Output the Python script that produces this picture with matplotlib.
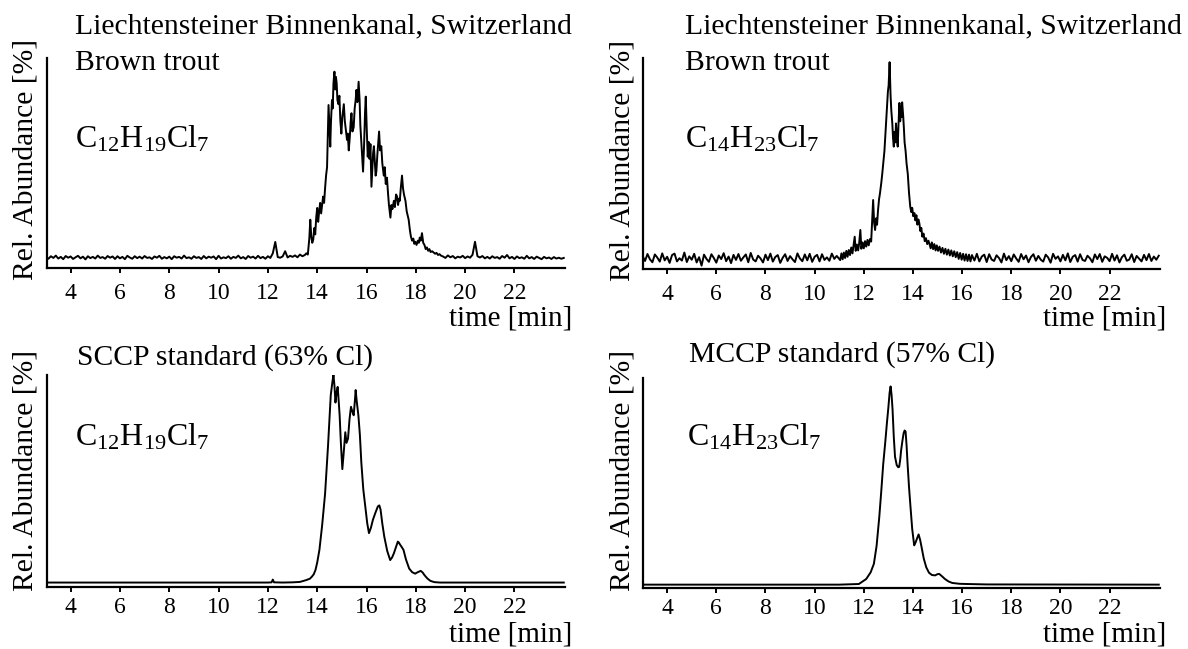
import numpy as np
import matplotlib.pyplot as plt

plt.rcParams['font.family'] = ['Liberation Serif', 'DejaVu Serif']
plt.rcParams['mathtext.fontset'] = 'custom'
plt.rcParams['mathtext.rm'] = 'Liberation Serif'

W, H = 1188, 649

# ---- data (time in min, relative abundance in %) ----
ticks = [4, 6, 8, 10, 12, 14, 16, 18, 20, 22]

# Panel A: trout, C12H19Cl7 (noisy)
trout12_base_t = np.linspace(3.0, 13.5, 106)
trout12_base_v = [
    5.2, 4.4, 5.6, 4.8, 5.9, 4.5, 5.3, 4.2, 5.7, 4.9,
    5.5, 4.3, 5.1, 5.8, 4.6, 5.4, 4.1, 5.6, 4.7, 5.3,
    4.5, 5.9, 4.8, 5.2, 4.4, 5.7, 4.9, 5.5, 4.3, 5.6,
    4.6, 5.3, 4.2, 5.8, 5.0, 4.4, 5.6, 4.7, 5.4, 4.5,
    5.7, 4.8, 5.1, 4.3, 5.5, 4.9, 5.8, 4.4, 5.2, 4.6,
    5.4, 4.2, 5.6, 4.9, 5.3, 4.5, 5.9, 4.7, 5.1, 4.4,
    5.6, 4.8, 5.2, 4.3, 5.7, 4.6, 5.4, 4.9, 5.5, 4.2,
    5.8, 4.5, 5.1, 4.7, 5.6, 4.4, 5.3, 4.8, 5.9, 4.6,
    5.2, 4.3, 5.7, 4.9, 5.4, 4.5, 5.8, 4.7, 5.3, 4.4,
    5.6, 4.8, 7.0, 12.4, 5.2, 4.9, 5.5, 8.0, 5.0, 5.8,
    5.3, 6.0, 5.1, 6.4, 5.6, 6.2,
]
trout12_peak_t = [
    13.56, 13.62, 13.68, 13.72, 13.76, 13.80, 13.84, 13.88, 13.92, 13.96,
    14.00, 14.04, 14.08, 14.12, 14.16, 14.20, 14.24, 14.28, 14.32, 14.36,
    14.40, 14.43, 14.46, 14.50, 14.53, 14.56, 14.60, 14.63, 14.66, 14.70,
    14.73, 14.76, 14.79, 14.82, 14.86, 14.90, 14.94, 14.98, 15.02, 15.05,
    15.08, 15.12, 15.16, 15.21, 15.24, 15.28, 15.32, 15.36, 15.39, 15.43,
    15.48, 15.52, 15.56, 15.59, 15.63, 15.68, 15.72, 15.75, 15.79, 15.83,
    15.86, 15.90, 15.94, 15.97, 16.01, 16.05, 16.09, 16.12, 16.16, 16.20,
    16.24, 16.27, 16.30, 16.34, 16.37, 16.40, 16.44, 16.48, 16.51, 16.55,
    16.60, 16.64, 16.67, 16.70, 16.74, 16.78, 16.83, 16.87, 16.91, 16.94,
    16.97, 17.01, 17.05, 17.11, 17.15, 17.20, 17.24, 17.28, 17.32, 17.35,
    17.39, 17.44, 17.48, 17.52, 17.58, 17.63, 17.67, 17.71, 17.76, 17.80,
    17.85, 17.90, 17.94, 17.98, 18.03, 18.08, 18.12, 18.16, 18.20, 18.25,
    18.30, 18.35, 18.40, 18.45, 18.50, 18.55, 18.60, 18.66, 18.72, 18.78,
    18.84, 18.90, 18.96, 19.02,
]
trout12_peak_v = [
    7.0, 6.4, 14.0, 23.0, 15.0, 12.0, 13.5, 19.0, 16.0, 24.0,
    28.6, 22.0, 27.0, 31.0, 26.0, 30.0, 34.0, 31.0, 38.0, 44.0,
    48.0, 62.0, 77.6, 66.0, 57.8, 70.0, 80.0, 76.0, 88.0, 93.5,
    85.0, 91.0, 88.0, 80.0, 78.0, 82.0, 70.0, 64.0, 72.0, 75.0,
    78.0, 70.0, 66.0, 61.0, 64.0, 56.0, 62.0, 70.0, 73.7, 65.0,
    67.0, 76.0, 80.0, 84.8, 79.0, 88.7, 80.0, 68.0, 60.0, 52.0,
    45.9, 58.0, 74.0, 81.6, 66.0, 53.0, 60.0, 52.0, 59.0, 38.7,
    48.0, 55.0, 58.0, 50.0, 44.0, 46.0, 54.0, 60.0, 65.0, 56.0,
    58.0, 50.0, 47.0, 44.0, 48.0, 40.0, 43.0, 36.0, 30.0, 27.0,
    24.0, 30.0, 28.0, 32.0, 29.0, 35.0, 34.0, 30.0, 33.0, 32.0,
    38.0, 44.0, 38.0, 35.0, 32.0, 27.0, 25.0, 23.0, 18.0, 15.0,
    13.0, 14.0, 11.5, 12.5, 11.0, 13.0, 12.0, 14.5, 13.0, 16.6,
    12.0, 11.0, 9.0, 9.8, 8.2, 9.0, 7.6, 8.0, 7.4, 6.8,
    7.2, 6.2, 6.6, 5.9,
]
trout12_tail_t = np.linspace(19.1, 24.0, 50)
trout12_tail_v = [
    5.5, 4.8, 6.0, 5.1, 5.7, 4.6, 5.4, 5.0, 5.8,
    4.7, 5.5, 4.9, 6.3, 12.5, 5.6, 5.0, 5.7, 4.6, 5.3,
    4.5, 5.6, 4.8, 5.2, 4.4, 5.7, 4.9, 6.2, 4.6, 5.3,
    4.3, 5.5, 4.7, 5.1, 4.4, 5.8, 4.6, 5.2, 4.3, 5.4,
    4.8, 4.2, 5.3, 4.6, 5.0, 4.3, 5.2, 4.5, 4.9, 4.4,
    4.8,
]

# Panel B: trout, C14H23Cl7 (noisy)
trout14_base_t = np.linspace(3.0, 10.9, 80)
trout14_base_v = [
    6.2, 3.8, 7.1, 4.6, 3.2, 6.9, 5.4, 3.5, 7.4, 4.1,
    5.8, 2.9, 6.6, 7.3, 3.6, 5.1, 4.0, 7.8, 3.3, 6.0,
    4.4, 7.2, 3.1, 5.6, 1.6, 6.8, 4.8, 3.4, 7.0, 5.2,
    3.0, 6.4, 4.7, 7.5, 3.7, 5.9, 2.8, 6.7, 4.3, 7.1,
    3.9, 5.5, 6.9, 3.2, 7.6, 4.5, 3.6, 6.3, 5.0, 3.1,
    6.8, 4.2, 7.3, 3.5, 5.7, 6.6, 2.9, 5.3, 7.0, 3.8,
    6.1, 4.6, 3.3, 7.4, 5.0, 3.7, 6.9, 4.1, 7.2, 3.4,
    5.8, 6.7, 3.6, 7.0, 4.3, 5.5, 3.9, 7.3, 4.8, 6.2,
]
trout14_peak_t = [
    11.04, 11.09, 11.14, 11.19, 11.24, 11.29, 11.34, 11.39, 11.44, 11.49,
    11.54, 11.58, 11.63, 11.67, 11.72, 11.77, 11.81, 11.86, 11.90, 11.95,
    12.00, 12.05, 12.10, 12.15, 12.20, 12.25, 12.30, 12.34, 12.38, 12.42,
    12.46, 12.50, 12.54, 12.58, 12.62, 12.66, 12.71, 12.75, 12.80, 12.84,
    12.88, 12.92, 12.95, 12.98, 13.01, 13.03, 13.05, 13.07, 13.09, 13.12,
    13.16, 13.19, 13.22, 13.25, 13.28, 13.31, 13.34, 13.38, 13.41, 13.45,
    13.48, 13.52, 13.54, 13.56, 13.60, 13.63, 13.66, 13.70, 13.74, 13.79,
    13.84, 13.89, 13.93, 13.97, 14.01, 14.06, 14.10, 14.14, 14.18, 14.22,
    14.26, 14.30, 14.34, 14.38, 14.43, 14.48, 14.53, 14.58, 14.63, 14.67,
    14.72, 14.77, 14.82, 14.87, 14.92, 14.97, 15.02, 15.08, 15.14, 15.20,
    15.26, 15.32, 15.38, 15.44, 15.50, 15.56, 15.62, 15.68, 15.74, 15.80,
    15.86, 15.92, 15.98, 16.04, 16.10, 16.16, 16.22, 16.28, 16.34, 16.40,
]
trout14_peak_v = [
    4.2, 7.4, 4.6, 7.8, 5.2, 8.6, 5.8, 9.0, 6.6, 10.2,
    7.4, 11.0, 15.3, 8.6, 11.6, 8.8, 12.0, 18.5, 9.6, 12.6,
    9.8, 13.2, 10.6, 13.8, 11.2, 14.2, 13.0, 23.0, 32.7, 22.0,
    18.5, 24.0, 21.0, 28.0, 33.0, 36.0, 40.7, 45.0, 51.0, 56.0,
    64.0, 72.0, 78.7, 84.0, 87.0, 92.0, 98.0, 90.0, 82.0, 75.0,
    69.0, 62.0, 58.0, 65.0, 60.0, 69.0, 63.0, 58.0, 68.0, 78.7,
    70.0, 77.0, 72.0, 79.0, 73.0, 67.0, 60.0, 56.0, 50.0, 45.0,
    36.0, 29.5, 27.0, 29.0, 25.0, 26.5, 23.0, 25.5, 21.0, 23.5,
    21.7, 18.0, 19.5, 15.3, 16.8, 13.2, 14.6, 11.8, 13.4, 12.0,
    9.8, 12.6, 9.4, 11.8, 8.8, 11.2, 8.6, 10.6, 7.8, 10.0,
    7.2, 9.6, 6.8, 9.2, 6.4, 8.8, 6.0, 8.4, 5.6, 8.0,
    4.8, 7.6, 4.4, 7.2, 4.0, 7.0, 3.8, 6.8, 3.6, 6.6,
]
trout14_tail_t = np.linspace(16.5, 24.0, 76)
trout14_tail_v = [
    4.0, 7.2, 3.6, 5.9, 6.8, 3.3, 7.0, 4.5, 3.8, 6.5,
    5.2, 3.1, 7.3, 4.2, 6.1, 3.7, 6.9, 5.0, 3.4, 7.1,
    4.6, 6.4, 3.2, 5.7, 7.0, 3.9, 6.2, 4.4, 3.5, 6.8,
    5.5, 3.0, 7.2, 4.8, 6.0, 3.6, 6.7, 4.1, 7.4, 3.3,
    5.8, 6.6, 3.5, 7.0, 4.3, 3.8, 6.3, 5.1, 3.2, 6.9,
    4.7, 7.1, 3.4, 6.0, 5.3, 3.7, 7.2, 4.0, 6.5, 3.1,
    5.6, 6.8, 3.9, 4.5, 7.0, 3.3, 6.2, 4.9, 3.6, 6.7,
    4.2, 7.1, 3.8, 5.9, 4.4, 6.3,
]

# Panel C: SCCP standard, C12H19Cl7
sccp_t = [
    3.0, 12.0, 12.15, 12.2, 12.25, 12.6, 13.0, 13.3, 13.54, 13.7,
    13.78, 13.86, 13.93, 14.0, 14.09, 14.2, 14.32, 14.44, 14.55, 14.62,
    14.66, 14.70, 14.74, 14.79, 14.83, 14.87, 14.91, 14.96, 15.02, 15.08,
    15.14, 15.19, 15.25, 15.31, 15.37, 15.42, 15.48, 15.53, 15.56, 15.6,
    15.67, 15.73, 15.79, 15.87, 15.95, 16.03, 16.1, 16.18, 16.26, 16.36,
    16.46, 16.52, 16.57, 16.64, 16.72, 16.84, 16.96, 17.04, 17.11, 17.2,
    17.27, 17.31, 17.36, 17.42, 17.5, 17.6, 17.73, 17.85, 17.97, 18.08,
    18.2, 18.28, 18.35, 18.47, 18.59, 18.75, 18.98, 24.0,
]
sccp_v = [
    2.1, 2.1, 2.2, 3.5, 2.2, 2.1, 2.2, 2.4, 3.2, 3.9,
    4.8, 6.0, 8.0, 11.5, 17.5, 29.0, 44.0, 66.7, 90.5, 97.0,
    100.0, 95.0, 87.0, 92.0, 94.4, 88.0, 81.0, 68.0, 55.6, 64.0,
    73.0, 68.0, 70.0, 79.0, 85.0, 83.0, 81.0, 88.0, 92.9, 88.0,
    81.0, 72.0, 58.7, 46.0, 38.0, 30.0, 25.4, 28.0, 31.7, 35.0,
    38.0, 38.5, 36.5, 30.0, 23.8, 17.0, 12.7, 14.0, 15.9, 19.0,
    21.4, 21.0, 20.0, 19.0, 17.5, 13.0, 8.7, 7.0, 6.3, 7.0,
    7.6, 6.8, 5.6, 4.0, 2.9, 2.3, 2.1, 2.1,
]

# Panel D: MCCP standard, C14H23Cl7
mccp_t = [
    3.0, 11.0, 11.8, 12.1, 12.28, 12.41, 12.52, 12.63, 12.71, 12.79,
    12.87, 12.94, 13.0, 13.05, 13.09, 13.13, 13.17, 13.22, 13.27, 13.34,
    13.40, 13.44, 13.48, 13.52, 13.57, 13.62, 13.66, 13.70, 13.74, 13.78,
    13.84, 13.90, 13.97, 14.05, 14.10, 14.16, 14.23, 14.29, 14.35, 14.44,
    14.54, 14.65, 14.77, 14.9, 15.0, 15.07, 15.18, 15.3, 15.45, 15.6,
    15.9, 16.21, 17.0, 24.0,
]
mccp_v = [
    1.6, 1.6, 1.9, 4.3, 7.5, 11.5, 20.0, 33.8, 46.0, 59.0,
    69.0, 78.5, 86.0, 93.0, 96.0, 92.0, 85.0, 72.0, 62.5, 58.5,
    57.5, 57.7, 61.0, 65.7, 70.0, 73.7, 75.0, 74.5, 68.0, 59.3,
    48.0, 38.6, 28.0, 20.3, 21.5, 23.4, 25.5, 23.0, 19.5, 14.0,
    9.9, 7.3, 6.2, 6.0, 6.6, 6.7, 5.6, 4.3, 3.1, 2.4,
    2.0, 1.9, 1.7, 1.6,
]

trout12_t = np.concatenate([trout12_base_t, trout12_peak_t, trout12_tail_t])
trout12_v = np.concatenate([trout12_base_v, trout12_peak_v, trout12_tail_v])
trout14_t = np.concatenate([trout14_base_t, trout14_peak_t, trout14_tail_t])
trout14_v = np.concatenate([trout14_base_v, trout14_peak_v, trout14_tail_v])

# ---- figure ----
fig = plt.figure(figsize=(W / 100, H / 100), dpi=100)


def fx(px):
    return px / W


def fy(py):
    return 1 - py / H


def make_axes(left, top, right, bottom, pad):
    ax = fig.add_axes([fx(left), fy(bottom), fx(right - left), (bottom - top) / H])
    ax.set_xlim(3.03, 24.05)
    ax.set_ylim(0, 100)
    for s in ['top', 'right']:
        ax.spines[s].set_visible(False)
    for s in ['left', 'bottom']:
        ax.spines[s].set_linewidth(1.6)
    ax.set_yticks([])
    ax.set_xticks(ticks)
    ax.tick_params(axis='x', direction='out', length=3.5, width=1.4,
                   labelsize=17, pad=pad)
    return ax


panels = [
    (make_axes(46.7, 58, 565, 268, 7), trout12_t, trout12_v),
    (make_axes(643.3, 58, 1160, 269, 7), trout14_t, trout14_v),
    (make_axes(46.7, 375, 565, 587, 4), sccp_t, sccp_v),
    (make_axes(643.3, 378, 1160, 588, 4), mccp_t, mccp_v),
]
for ax, t, v in panels:
    ax.plot(t, v, color='black', linewidth=1.4)

fs = 21.3
f12 = r'$\mathregular{C_{12}H_{19}Cl_{7}}$'
f14 = r'$\mathregular{C_{14}H_{23}Cl_{7}}$'

# titles and formulas
fig.text(fx(75), fy(33), 'Liechtensteiner Binnenkanal, Switzerland', fontsize=fs, va='baseline')
fig.text(fx(75), fy(70), 'Brown trout', fontsize=fs, va='baseline')
fig.text(fx(75), fy(148), f12, fontsize=23, va='baseline')
fig.text(fx(685), fy(33), 'Liechtensteiner Binnenkanal, Switzerland', fontsize=fs, va='baseline')
fig.text(fx(685), fy(70), 'Brown trout', fontsize=fs, va='baseline')
fig.text(fx(685), fy(148), f14, fontsize=23, va='baseline')
fig.text(fx(77), fy(365), 'SCCP standard (63% Cl)', fontsize=fs, va='baseline')
fig.text(fx(75), fy(446), f12, fontsize=23, va='baseline')
fig.text(fx(689), fy(362), 'MCCP standard (57% Cl)', fontsize=fs, va='baseline')
fig.text(fx(687), fy(446), f14, fontsize=23, va='baseline')

# axis labels
for x, yc in [(26, 159), (622, 160), (26, 470), (622, 470)]:
    fig.text(fx(x), fy(yc), 'Rel. Abundance [%]', fontsize=fs, rotation=90,
             ha='center', va='center')
for x, yb in [(572, 325), (1166, 325), (572, 642), (1166, 642)]:
    fig.text(fx(x), fy(yb), 'time [min]', fontsize=21, ha='right', va='baseline')

fig.savefig('out.png', dpi=100, facecolor='white')
